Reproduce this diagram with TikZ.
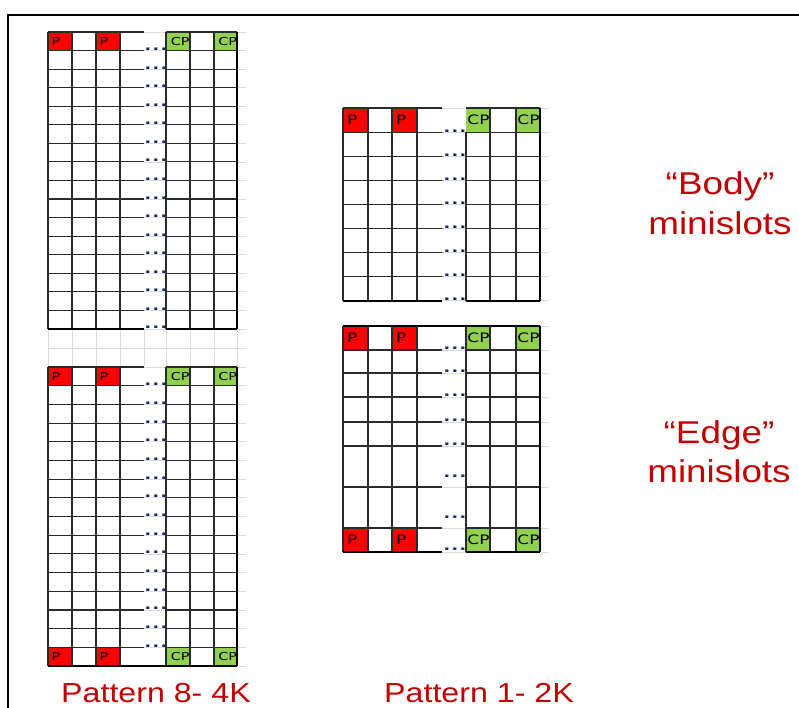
\documentclass[tikz,border=0pt]{standalone}
\usepackage{fontspec}
\setmainfont{Liberation Sans}
\newfontfamily\msLabelFont[FakeStretch=1.17]{Liberation Sans}
\newfontfamily\msCellFont[FakeStretch=1.3]{DejaVu Sans}
\newfontfamily\msDotFont[FakeStretch=1.3,LetterSpace=11]{Liberation Sans}
\usetikzlibrary{calc,positioning}
\definecolor{MSRed}{HTML}{FF0000}
\definecolor{MSGreen}{HTML}{92D050}
\definecolor{MSLabel}{HTML}{C00000}
\definecolor{MSNavy}{HTML}{1F2A5A}
\definecolor{MSRule}{HTML}{2A2A2A}
\definecolor{MSFaint}{HTML}{DADADA}
\tikzset{
  msRule/.style={
    line width=1.1pt,
    color=MSRule
  },
  msEdge/.style={
    line width=1.7pt,
    color=black
  },
  msFaint/.style={
    line width=0.7pt,
    color=MSFaint
  },
  msFrame/.style={
    line width=2.2pt,
    color=black
  },
  msCell/.style={
    inner sep=0pt,
    anchor=north west,
    text=black
  },
  msCellP/.style={
    msCell,
    fill=MSRed,
    text width=17pt,
    align=left
  },
  msCellCP/.style={
    msCell,
    fill=MSGreen,
    text width=22.5pt,
    align=right
  },
  msSmall/.style={
    font=\msCellFont\fontsize{11pt}{12pt}\selectfont
  },
  msLarge/.style={
    font=\msCellFont\fontsize{13pt}{14pt}\selectfont
  },
  msDots/.style={
    inner sep=0pt,
    anchor=base,
    text height=3pt,
    text depth=0pt,
    text=MSNavy,
    font=\msDotFont\bfseries\fontsize{17pt}{17pt}\selectfont
  },
  msLabel/.style={
    inner sep=0pt,
    anchor=base,
    text=MSLabel
  }
}

\begin{document}
\begin{tikzpicture}[x=1pt, y=-1pt]
    \useasboundingbox (0,0) rectangle (799,708);

    % Marco exterior
    \draw [msFrame] (8,708) -- (8,15) -- (799,15);

    % Pattern 8: bloque superior
    \node (ltP1) [msCellP, msSmall, minimum width=24pt, minimum height=18.56pt] at (48,32) {P};
    \node (ltP2) [msCellP, msSmall, minimum width=24pt, minimum height=18.56pt] at (96,32) {P};
    \node (ltCP1) [msCellCP, msSmall, minimum width=24pt, minimum height=18.56pt] at (166,32) {CP};
    \node (ltCP2) [msCellCP, msSmall, minimum width=23pt, minimum height=18.56pt] at (214,32) {CP};
    \foreach \r [evaluate=\r as \yy using 32+\r*18.56] in {0,...,16} {
      \draw [msRule] (48,\yy) -- (144,\yy);
      \draw [msFaint] (144,\yy) -- (166,\yy);
      \draw [msRule] (166,\yy) -- (237,\yy);
      \draw [msFaint] (238,\yy) -- (246,\yy);
    }
    \foreach \xx in {48,72,96,120,166,190,214}
      \draw [msRule] (\xx,32) -- (\xx,329);
    \draw [msEdge] (237,32) -- (237,329);
    \draw [msEdge] (48,329) -- (144,329) (166,329) -- (237,329);
    \foreach \r [evaluate=\r as \yy using 32+\r*18.56] in {1,...,16}
      \node (ltDots\r) [msDots] at (156,\yy) {...};

    % Zona gris entre bloques
    \draw [msFaint] (48,348) -- (246,348);
    \foreach \xx in {48,72,96,120,144,166,190,214,237}
      \draw [msFaint] (\xx,330) -- (\xx,366);

    % Pattern 8: bloque inferior
    \node (lbP1) [msCellP, msSmall, minimum width=24pt, minimum height=18.69pt] at (48,367) {P};
    \node (lbP2) [msCellP, msSmall, minimum width=24pt, minimum height=18.69pt] at (96,367) {P};
    \node (lbCP1) [msCellCP, msSmall, minimum width=24pt, minimum height=18.69pt] at (166,367) {CP};
    \node (lbCP2) [msCellCP, msSmall, minimum width=23pt, minimum height=18.69pt] at (214,367) {CP};
    \node (lbP3) [msCellP, msSmall, minimum width=24pt, minimum height=18.69pt] at (48,647.35) {P};
    \node (lbP4) [msCellP, msSmall, minimum width=24pt, minimum height=18.69pt] at (96,647.35) {P};
    \node (lbCP3) [msCellCP, msSmall, minimum width=24pt, minimum height=18.69pt] at (166,647.35) {CP};
    \node (lbCP4) [msCellCP, msSmall, minimum width=23pt, minimum height=18.69pt] at (214,647.35) {CP};
    \foreach \r [evaluate=\r as \yy using 367+\r*18.69] in {0,...,16} {
      \draw [msRule] (48,\yy) -- (144,\yy);
      \draw [msFaint] (144,\yy) -- (166,\yy);
      \draw [msRule] (166,\yy) -- (237,\yy);
      \draw [msFaint] (238,\yy) -- (246,\yy);
    }
    \foreach \xx in {48,72,96,120,166,190,214}
      \draw [msRule] (\xx,367) -- (\xx,666);
    \draw [msEdge] (237,367) -- (237,666);
    \draw [msEdge] (48,666) -- (237,666);
    \foreach \r [evaluate=\r as \yy using 367+\r*18.69] in {1,...,15}
      \node (lbDots\r) [msDots] at (156,\yy) {...};

    % Pattern 1: minislots "Body"
    \node (rtP1) [msCellP, msLarge, minimum width=25pt, minimum height=24.1pt] at (343,108) {P};
    \node (rtP2) [msCellP, msLarge, minimum width=25pt, minimum height=24.1pt] at (392,108) {P};
    \node (rtCP1) [msCellCP, msLarge, minimum width=24pt, minimum height=24.1pt] at (466,108) {CP};
    \node (rtCP2) [msCellCP, msLarge, minimum width=24pt, minimum height=24.1pt] at (516,108) {CP};
    \foreach \r [evaluate=\r as \yy using 108+\r*24.1] in {0,...,8} {
      \draw [msRule] (343,\yy) -- (442,\yy);
      \draw [msFaint] (442,\yy) -- (466,\yy);
      \draw [msRule] (466,\yy) -- (540,\yy);
      \draw [msFaint] (541,\yy) -- (549,\yy);
    }
    \foreach \xx in {343,368,392,417,490,516}
      \draw [msRule] (\xx,108) -- (\xx,300.8);
    \draw [msRule] (466,132.1) -- (466,300.8);
    \draw [msEdge] (540,108) -- (540,300.8);
    \draw [msEdge] (343,300.8) -- (442,300.8) (466,300.8) -- (540,300.8);
    \foreach \r [evaluate=\r as \yy using 108+\r*24.1] in {1,...,8}
      \node (rtDots\r) [msDots] at (455,\yy) {...};

    % Pattern 1: minislots "Edge"
    \node (rbP1) [msCellP, msLarge, minimum width=25pt, minimum height=24pt] at (343,326) {P};
    \node (rbP2) [msCellP, msLarge, minimum width=25pt, minimum height=24pt] at (392,326) {P};
    \node (rbCP1) [msCellCP, msLarge, minimum width=24pt, minimum height=24pt] at (466,326) {CP};
    \node (rbCP2) [msCellCP, msLarge, minimum width=24pt, minimum height=24pt] at (516,326) {CP};
    \node (rbP3) [msCellP, msLarge, minimum width=25pt, minimum height=24pt] at (343,528) {P};
    \node (rbP4) [msCellP, msLarge, minimum width=25pt, minimum height=24pt] at (392,528) {P};
    \node (rbCP3) [msCellCP, msLarge, minimum width=24pt, minimum height=24pt] at (466,528) {CP};
    \node (rbCP4) [msCellCP, msLarge, minimum width=24pt, minimum height=24pt] at (516,528) {CP};
    \foreach \yy in {326,350,373,397,422,446,487,528,552} {
      \draw [msRule] (343,\yy) -- (442,\yy);
      \draw [msFaint] (442,\yy) -- (466,\yy);
      \draw [msRule] (466,\yy) -- (540,\yy);
      \draw [msFaint] (541,\yy) -- (549,\yy);
    }
    \draw [msEdge] (343,326) -- (540,326);
    \foreach \xx in {343,368,392,417,466,490,516}
      \draw [msRule] (\xx,326) -- (\xx,552);
    \draw [msEdge] (540,326) -- (540,552);
    \draw [msEdge] (343,552) -- (442,552) (466,552) -- (540,552);
    \foreach \yy [count=\i] in {349,372,396,421,445,477.5,518.5,550}
      \node (rbDots\i) [msDots] at (455,\yy) {...};

    % Etiquetas
    \node (bodyQ) [msLabel, font=\msLabelFont\fontsize{31.5pt}{38pt}\selectfont] at (720,195) {“Body”};
    \node (bodyM) [msLabel, font=\msLabelFont\fontsize{31.5pt}{38pt}\selectfont] at (720,235) {minislots};
    \node (edgeQ) [msLabel, font=\msLabelFont\fontsize{31.5pt}{38pt}\selectfont] at (719,443) {“Edge”};
    \node (edgeM) [msLabel, font=\msLabelFont\fontsize{31.5pt}{38pt}\selectfont] at (719,482) {minislots};
    \node (pat8) [msLabel, font=\msLabelFont\fontsize{27.5pt}{33pt}\selectfont] at (156,702) {Pattern 8- 4K};
    \node (pat1) [msLabel, font=\msLabelFont\fontsize{27.5pt}{33pt}\selectfont] at (479,702) {Pattern 1- 2K};
\end{tikzpicture}
\end{document}
